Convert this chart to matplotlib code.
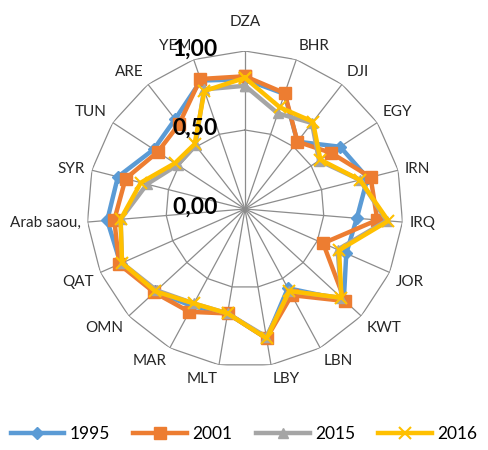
import numpy as np
import matplotlib
matplotlib.use("Agg")
import matplotlib.pyplot as plt

plt.rcParams['font.family'] = ['Lato', 'DejaVu Sans']

categories = ['DZA', 'BHR', 'DJI', 'EGY', 'IRN', 'IRQ', 'JOR', 'KWT', 'LBN', 'LBY',
              'MLT', 'MAR', 'OMN', 'QAT', 'Arab saou,', 'SYR', 'TUN', 'ARE', 'YEM']
v1995 = [0.82, 0.77, 0.54, 0.72, 0.80, 0.71, 0.70, 0.85, 0.57, 0.83,
         0.67, 0.70, 0.77, 0.86, 0.875, 0.83, 0.69, 0.72, 0.86]
v2001 = [0.84, 0.775, 0.54, 0.65, 0.82, 0.84, 0.54, 0.86, 0.62, 0.83,
         0.67, 0.74, 0.78, 0.87, 0.83, 0.78, 0.66, 0.68, 0.87]
v2015 = [0.78, 0.64, 0.69, 0.56, 0.75, 0.90, 0.64, 0.83, 0.59, 0.82,
         0.67, 0.68, 0.76, 0.85, 0.79, 0.64, 0.51, 0.51, 0.80]
v2016 = [0.83, 0.68, 0.70, 0.57, 0.75, 0.91, 0.65, 0.83, 0.59, 0.83,
         0.67, 0.68, 0.77, 0.85, 0.79, 0.68, 0.53, 0.52, 0.79]
series_names = ['1995', '2001', '2015', '2016']
radial_ticks = [0.0, 0.5, 1.0]

colors = ['#5B9BD5', '#ED7D31', '#A5A5A5', '#FFC000']
markers = ['D', 's', '^', 'x']
msizes = [6, 8, 7, 9]
grid_color = '#8C8C8C'

n = len(categories)
theta = np.arange(n) * 2 * np.pi / n
theta_c = np.append(theta, theta[0])

fig = plt.figure(figsize=(4.88, 4.50), dpi=100)
W, H = 488, 450
cx, cy, R = 245, 450 - 209, 158
ax = fig.add_axes([(cx - R) / W, (cy - R) / H, 2 * R / W, 2 * R / H], projection='polar')
ax.set_theta_zero_location('N')
ax.set_theta_direction(-1)
ax.set_ylim(0, 1)
ax.spines['polar'].set_visible(False)
ax.set_yticks([])
ax.yaxis.grid(False)
ax.set_xticks(theta)
ax.set_xticklabels([])
ax.xaxis.grid(True, color=grid_color, lw=0.9)
ax.tick_params(axis='x', length=0)

for r in [0.5, 1.0]:
    ax.plot(theta_c, [r] * (n + 1), color=grid_color, lw=0.9, zorder=1)

for vals, name, c, m, ms in zip([v1995, v2001, v2015, v2016], series_names, colors, markers, msizes):
    vv = np.append(vals, vals[0])
    mew = 1.5 if m == 'x' else 1
    ax.plot(theta_c, vv, color=c, lw=3.2, marker=m, markersize=ms,
            markeredgewidth=mew, markeredgecolor=c, markerfacecolor=c,
            label=name, zorder=3, clip_on=False)

for t, cat in zip(theta, categories):
    s, c = np.sin(t), np.cos(t)
    if abs(s) < 0.05:
        ha, va, off = 'center', 'bottom', 16
    else:
        ha = 'left' if s > 0 else 'right'
        if c > 0.3:
            va = 'bottom'
        elif c < -0.3:
            va = 'top'
        else:
            va = 'center'
        off = 5
    ax.annotate(cat, xy=(t, 1.0), xytext=(off * s, off * c), textcoords='offset points',
                ha=ha, va=va, fontsize=11, color='#262626', annotation_clip=False)

for v in radial_ticks:
    ax.annotate(f'{v:.2f}'.replace('.', ','), xy=(0, v), xytext=(-19.5, 1.5),
                textcoords='offset points', ha='right', va='center',
                fontsize=16.5, fontweight='bold', color='black',
                annotation_clip=False, zorder=5)

leg = fig.legend(loc='lower center', bbox_to_anchor=(0.5, -0.005), ncol=4, frameon=False,
                 fontsize=12.5, handlelength=3.1, handletextpad=0.3, columnspacing=1.35,
                 borderaxespad=0.2)

fig.savefig('out.png', dpi=100)
